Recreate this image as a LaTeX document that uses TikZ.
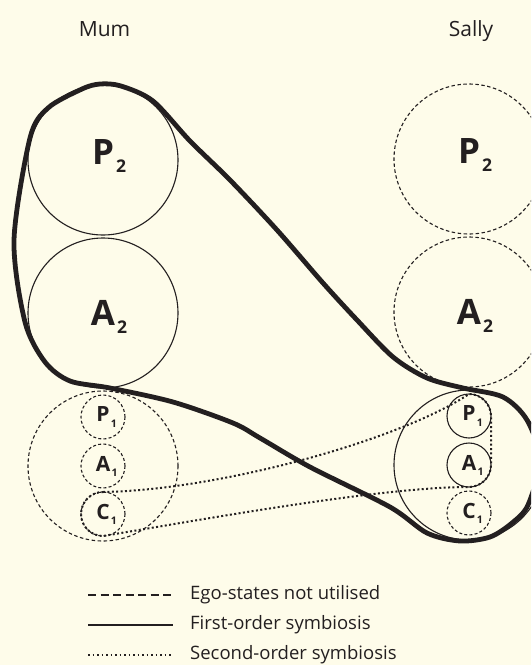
\documentclass[tikz,border=0pt]{standalone}
\usepackage{fontspec}
\setmainfont{Open Sans}
\usepackage{tikz}
\usetikzlibrary{positioning}
\definecolor{cream}{RGB}{254,252,234}
\definecolor{ink}{RGB}{35,31,32}
\newcommand{\egolbl}[2]{#1\rlap{\kern0.06em\raisebox{-0.24em}{\scalebox{0.5}{#2}}}}

\begin{document}
\begin{tikzpicture}[
  x=1pt, y=-1pt,
  bigego/.style={circle, draw=ink, line width=1.1pt, minimum size=150pt, inner sep=0pt, outer sep=0pt},
  bigunused/.style={bigego, dash pattern=on 3.5pt off 2.5pt},
  smallego/.style={circle, draw=ink, line width=1.1pt, minimum size=44pt, inner sep=0pt, outer sep=0pt, text=ink, font=\fontsize{21}{24}\selectfont\bfseries},
  smallunused/.style={smallego, dash pattern=on 3pt off 2.2pt},
  biglbl/.style={font=\fontsize{35}{40}\selectfont\bfseries, text=ink},
  who/.style={font=\fontsize{21}{24}\selectfont, text=ink, anchor=base},
  keytext/.style={font=\fontsize{18.5}{22}\selectfont, text=ink, anchor=base west, inner sep=0pt},
  firstorder/.style={draw=ink, line width=4.8pt, line join=round},
  secondorder/.style={draw=ink, line width=2pt, dash pattern=on 2pt off 2.4pt},
  keyunused/.style={draw=ink, line width=2.6pt, dash pattern=on 8pt off 4.5pt},
  keyfirst/.style={draw=ink, line width=2.6pt},
  keysecond/.style={draw=ink, line width=1.6pt, dash pattern=on 1.6pt off 2.9pt}
]
\useasboundingbox (0,0) rectangle (531,665);
\fill[cream] (0,0) rectangle (531,665);
\clip (0,0) rectangle (531,665);

% Mum
\node[who] (mum) at (104.5,36) {Mum};
\node[bigego, label={[biglbl, yshift=4pt]center:\egolbl{P}{2}}] (mP2) at (103,160) {};
\node[bigego, below=3pt of mP2, label={[biglbl, yshift=-4pt]center:\egolbl{A}{2}}] (mA2) {};
\node[bigunused, below=3pt of mA2] (mChild) {};
\node[smallunused] (mA1) at (mChild) {\egolbl{A}{1}};
\node[smallunused, above=5pt of mA1] (mP1) {\egolbl{P}{1}};
\node[smallunused, below=4pt of mA1] (mC1) {\egolbl{C}{1}};

% Sally
\node[who] (sally) at (471,36) {Sally};
\node[bigunused, label={[biglbl, yshift=4pt]center:\egolbl{P}{2}}] (sP2) at (469,159) {};
\node[bigunused, below=3pt of sP2, label={[biglbl, yshift=-4pt]center:\egolbl{A}{2}}] (sA2) {};
\node[bigego, below=3pt of sA2] (sChild) {};
\node[smallego] (sA1) at (sChild) {\egolbl{A}{1}};
\node[smallego, above=5pt of sA1] (sP1) {\egolbl{P}{1}};
\node[smallunused, below=4pt of sA1] (sC1) {\egolbl{C}{1}};

% first-order symbiosis
\draw[firstorder] plot[smooth cycle, tension=0.5] coordinates {
  (100,84) (121,86) (153,101) (190,141) (230,180) (277,230) (323,283)
  (357,320) (393,357) (427,378) (463,388) (503,397) (527,420) (540,460)
  (528,505) (512,523) (490,537) (460,541) (427,533) (390,507) (310,467)
  (260,438) (233,423) (173,402) (110,388) (70,381) (45,362) (25,322)
  (14,240) (30,138) (48,108) (82,89)};

% second-order symbiosis
\draw[secondorder] (mC1.north) .. controls (220,490) and (400,440) .. (sP1.north)
  arc[start angle=270, end angle=360, radius=22] -- (sA1.east)
  arc[start angle=0, end angle=90, radius=22]
  .. controls (380,487) and (200,520) .. (mC1.south)
  arc[start angle=90, end angle=270, radius=22];

% key
\coordinate (unusedL) at (88,595);
\coordinate[right=85pt of unusedL] (unusedR);
\coordinate (firstL) at (88,625);
\coordinate[right=85pt of firstL] (firstR);
\coordinate (secondL) at (88,655);
\coordinate[right=85pt of secondL] (secondR);
\draw[keyunused] (unusedL) -- (unusedR);
\draw[keyfirst] (firstL) -- (firstR);
\draw[keysecond] (secondL) -- (secondR);
\node[keytext] (unusedTxt) at (190,599) {Ego-states not utilised};
\node[keytext] (firstTxt) at (190,629) {First-order symbiosis};
\node[keytext] (secondTxt) at (190,659) {Second-order symbiosis};
\end{tikzpicture}
\end{document}
